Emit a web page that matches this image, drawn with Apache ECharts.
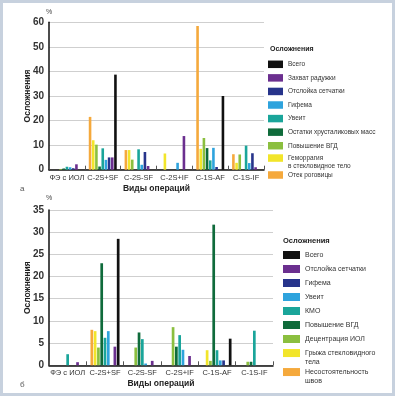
<!DOCTYPE html>
<html><head><meta charset="utf-8">
<script src="https://cdn.jsdelivr.net/npm/echarts@6/dist/echarts.min.js"></script>
<style>html,body{margin:0;padding:0;background:#fff}#c{width:395px;height:400px}</style>
</head><body><div id="c"></div>
<script>
const categories = ['ФЭ с ИОЛ', 'C-2S+SF', 'C-2S-SF', 'C-2S+IF', 'C-1S-AF', 'C-1S-IF'];
const yTicksTop = [0, 10, 20, 30, 40, 50, 60];
const yTicksBottom = [0, 5, 10, 15, 20, 25, 30, 35];

// Chart a (order of bars inside a group: left to right)
const namesTop = ['Отек роговицы', 'Геморрагия\nв стекловидное тело', 'Повышение ВГД', 'Остатки хрусталиковых масс', 'Увеит', 'Гифема', 'Отслойка сетчатки', 'Захват радужки', 'Всего'];
const topOtek      = [0, 21.5, 8.0, 0, 58.5, 6.3];
const topGemorr    = [0, 12.0, 8.0, 6.6, 8.5, 2.8];
const topVGD       = [0.3, 10.2, 4.1, 0, 12.9, 6.2];
const topOstatki   = [0.5, 1.3, 0, 0, 8.8, 0];
const topUveit     = [1.2, 8.7, 8.3, 0, 3.8, 9.8];
const topGifema    = [1.0, 4.0, 2.0, 2.8, 8.9, 2.7];
const topOtsloika  = [0.6, 5.0, 7.2, 0, 1.1, 6.7];
const topZahvat    = [2.2, 5.0, 1.5, 13.7, 0, 1.0];
const topVsego     = [0, 38.7, 0, 0, 30.0, 0];

// Chart б
const namesBottom = ['Несостоятельность\nшвов', 'Грыжа стекловидного\nтела', 'Децентрация ИОЛ', 'Повышение ВГД', 'КМО', 'Увеит', 'Гифема', 'Отслойка сетчатки', 'Всего'];
const botShvy      = [0, 8.0, 0, 0, 0, 0];
const botGryzha    = [0, 7.7, 0, 0, 3.4, 0];
const botDecentr   = [0, 4.0, 4.0, 8.6, 1.0, 0.8];
const botVGD       = [0, 23.0, 7.4, 4.2, 31.7, 0.8];
const botKMO       = [2.5, 6.2, 5.9, 6.8, 3.4, 7.8];
const botUveit     = [0, 7.7, 0.4, 3.5, 1.1, 0];
const botGifema    = [0, 0, 0, 0, 1.1, 0];
const botOtsloika  = [0.7, 4.2, 1.0, 2.1, 0, 0];
const botVsego     = [0, 28.5, 0, 0, 6.0, 0];

const colors = ['#f5a93c', '#f2e52a', '#8bbf3f', '#0f6b3b', '#1aa59a', '#2ea3dd', '#27348b', '#6b2f8f', '#111111'];

const topData = [topOtek, topGemorr, topVGD, topOstatki, topUveit, topGifema, topOtsloika, topZahvat, topVsego];
const botData = [botShvy, botGryzha, botDecentr, botVGD, botKMO, botUveit, botGifema, botOtsloika, botVsego];

const FONT = 'Liberation Sans, Arial, sans-serif';
const series = [];
topData.forEach((d, i) => series.push({
  type: 'bar', name: namesTop[i], xAxisIndex: 0, yAxisIndex: 0, data: d,
  itemStyle: {color: colors[i]}, barWidth: 2.6, barGap: '22%'
}));
const botNames = namesBottom.map(n => n + ' ');
botData.forEach((d, i) => series.push({
  type: 'bar', name: botNames[i], xAxisIndex: 1, yAxisIndex: 1, data: d,
  itemStyle: {color: colors[i]}, barWidth: 2.7, barGap: '22%'
}));

function xAxis(gi) {
  return {
    type: 'category', gridIndex: gi, data: categories,
    name: 'Виды операций', nameLocation: 'middle', nameGap: 14, nameMoveOverlap: false,
    nameTextStyle: {fontFamily: FONT, fontWeight: 'bold', fontSize: 8.5, color: '#222'},
    axisLine: {lineStyle: {color: '#111', width: 1.5}},
    axisTick: {show: true, inside: true, length: 4, lineStyle: {color: '#555'}},
    axisLabel: {fontFamily: FONT, fontSize: 7.5, color: '#333', margin: 4, interval: 0, hideOverlap: false}
  };
}
function yAxis(gi, ticks) {
  return {
    type: 'value', gridIndex: gi, min: ticks[0], max: ticks[ticks.length - 1], interval: ticks[1] - ticks[0],
    name: 'Осложнения', nameLocation: 'middle', nameGap: 16.5, nameMoveOverlap: false,
    nameTextStyle: {fontFamily: FONT, fontWeight: 'bold', fontSize: 8.5, color: '#222'},
    axisLine: {show: true, lineStyle: {color: '#111', width: 1.5}},
    axisTick: {show: false},
    splitLine: {lineStyle: {color: '#cfcfcf', width: 1}},
    axisLabel: {fontFamily: FONT, fontSize: 10, fontWeight: 'bold', color: '#333', margin: 5}
  };
}

// legend helper; twoLine => first line aligned with the swatch (second line hangs below)
function legend(items, left, top, w, h, gap, fs, lh, twoLine) {
  const base = {fontFamily: FONT, fontSize: fs, color: '#333'};
  return {
    data: items, orient: 'vertical', left: left, top: top, height: 300, padding: 0,
    itemWidth: w, itemHeight: h, itemGap: gap, icon: 'rect', selectedMode: false,
    formatter: function (name) {
      if (!twoLine) return name;
      const parts = name.trim().split('\n');
      return '{a|' + parts[0] + '}\n{b|' + parts[1] + '}';
    },
    textStyle: Object.assign({lineHeight: lh, rich: {
      a: Object.assign({lineHeight: 2 * lh}, base),
      b: Object.assign({lineHeight: 0.1}, base)
    }}, base)
  };
}
const topRev = namesTop.slice().reverse();
const botRev = botNames.slice().reverse();

const option = {
  animation: false,
  backgroundColor: '#fff',
  grid: [
    {left: 49, top: 22.3, width: 215, bottom: 230.3},
    {left: 49, top: 210, width: 224, bottom: 34.7}
  ],
  xAxis: [xAxis(0), xAxis(1)],
  yAxis: [yAxis(0, yTicksTop), yAxis(1, yTicksBottom)],
  legend: [
    legend(topRev.slice(0, 7), 268, 60.05, 15, 7.5, 5.07, 6.5, 8.5, false),
    legend([topRev[7]], 268, 149.5, 15, 7.5, 5, 6.5, 8.5, true),
    legend([topRev[8]], 268, 170.75, 15, 7.5, 5, 6.5, 8.5, false),
    legend(botRev.slice(0, 7), 283, 250.5, 17, 8, 5, 7, 9, false),
    legend([botRev[7]], 283, 344, 17, 8, 5, 7, 9, true),
    legend([botRev[8]], 283, 363, 17, 8, 5, 7, 9, true)
  ],
  graphic: [
    {type: 'rect', shape: {x: 1.5, y: 1.5, width: 392, height: 393}, style: {fill: 'none', stroke: '#c7d1de', lineWidth: 3}, silent: true},
    {type: 'text', left: 46, top: 9, style: {text: '%', fontFamily: FONT, fontSize: 7, fill: '#444'}},
    {type: 'text', left: 46, top: 195, style: {text: '%', fontFamily: FONT, fontSize: 7, fill: '#444'}},
    {type: 'text', left: 20, top: 185, style: {text: 'а', fontFamily: FONT, fontSize: 8, fill: '#555'}},
    {type: 'text', left: 20, top: 381, style: {text: 'б', fontFamily: FONT, fontSize: 8, fill: '#555'}},
    {type: 'text', left: 270, top: 46, style: {text: 'Осложнения', fontFamily: FONT, fontSize: 7, fontWeight: 'bold', fill: '#222'}},
    {type: 'text', left: 283, top: 237, style: {text: 'Осложнения', fontFamily: FONT, fontSize: 7.5, fontWeight: 'bold', fill: '#222'}}
  ],
  series: series
};
const chart = echarts.init(document.getElementById('c'), null, {renderer: 'canvas'});
chart.setOption(option);
</script></body></html>
